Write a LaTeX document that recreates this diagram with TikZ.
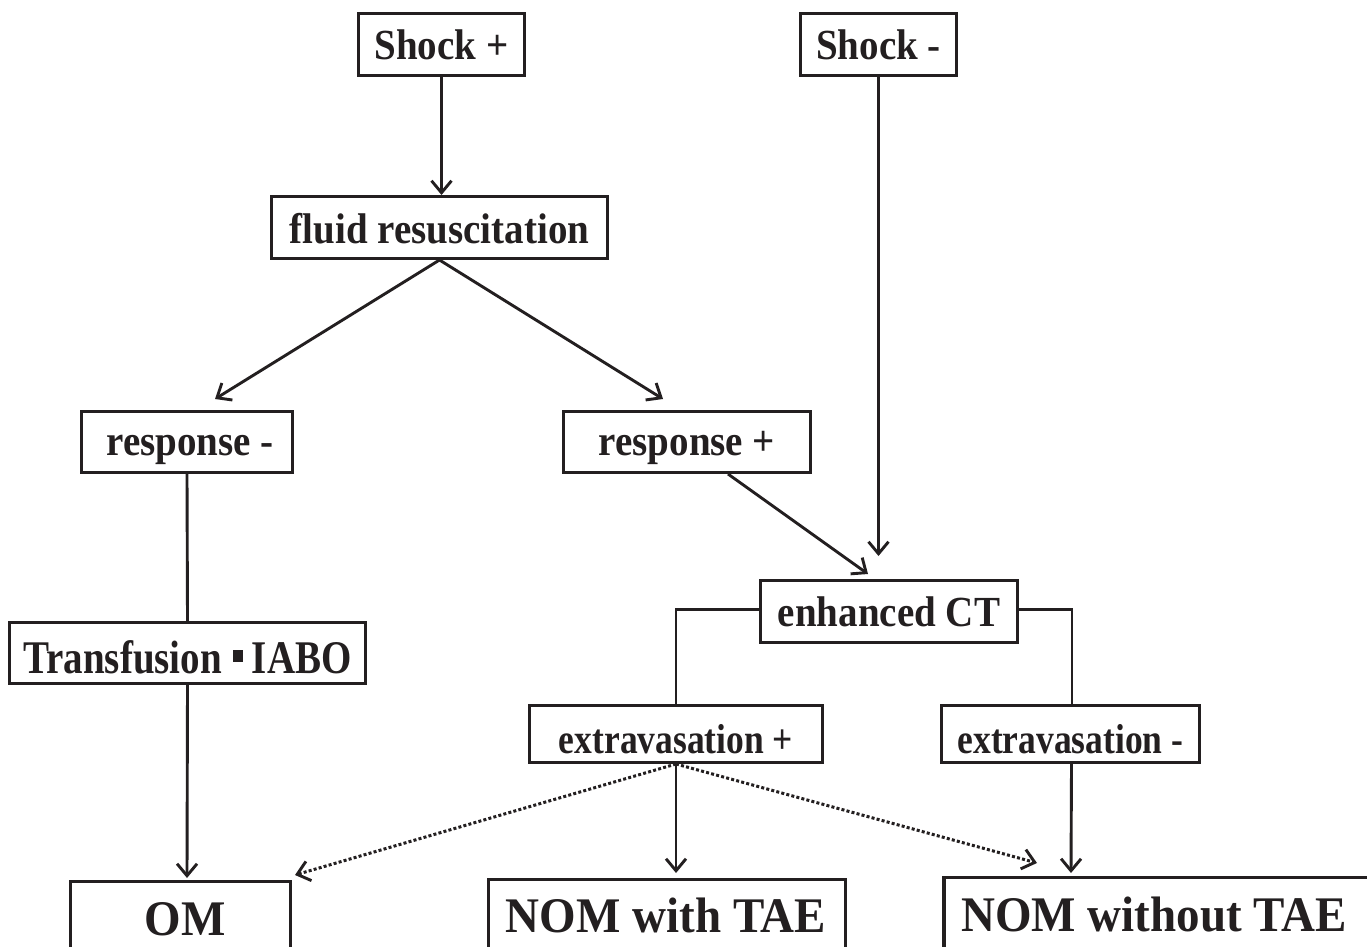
\documentclass[tikz,border=0pt]{standalone}
\usepackage{fontspec}
\setmainfont{Liberation Serif}
\usetikzlibrary{arrows.meta}
\definecolor{ink}{RGB}{35,31,32}
\newcommand{\vst}[2][1.1]{\scalebox{1}[#1]{#2}}
\begin{document}
\begin{tikzpicture}[x=1pt,y=-1pt,
  every node/.style={font=\bfseries, text=ink},
  box/.style={draw=ink, line width=3pt, inner sep=0pt, text depth=0pt,
    font=\fontsize{39}{42}\selectfont\bfseries},
  sbox/.style={box, font=\fontsize{35.5}{38}\selectfont\bfseries},
  bbox/.style={draw=ink, line width=3.4pt, inner sep=0pt, anchor=north},
  btext/.style={anchor=base, inner sep=0pt, font=\fontsize{47}{50}\selectfont\bfseries},
  conn/.style={draw=ink, line width=2.9pt},
  arr/.style={conn, -{Straight Barb[length=12pt,width=20pt,line width=2.9pt]}},
  dotarr/.style={arr, line width=3pt, dash pattern=on 3pt off 2.2pt}
]
\useasboundingbox (0,0) rectangle (1367,947);

% boxes
\node[box, minimum width=166, minimum height=62, text height=31pt] (s1) at (441.5,44.5) {\vst{Shock +}};
\node[box, minimum width=156, minimum height=62, text height=31pt] (s2) at (878.5,44.5) {\vst{Shock -}};
\node[box, minimum width=336, minimum height=62, text height=31pt] (fl) at (439.5,227.5) {\vst{fluid resuscitation}};
\node[box, minimum width=211, minimum height=61, text height=27pt] (rm) at (187,442) {\hspace{6pt}\vst{response -}};
\node[box, minimum width=247, minimum height=61, text height=27pt] (rp) at (687,442) {\vst{response +}};
\node[box, minimum width=257, minimum height=62, text height=29pt] (ct) at (889,611.5) {\vst{enhanced CT}};
\node[box, minimum width=356, minimum height=61, text height=40pt] (tr) at (187.5,653)
  {\vst[1.2]{Transfusion\hspace{11pt}\rule[9pt]{10pt}{10pt}\hspace{9pt}IABO}};
\node[sbox, minimum width=293, minimum height=57, text height=38pt] (ep) at (676,734) {\vst[1.18]{extravasation +}};
\node[sbox, minimum width=258, minimum height=57, text height=38pt] (em) at (1070.5,734) {\vst[1.18]{extravasation -}};

% bottom boxes (cut by page edge)
\node[bbox, minimum width=220, minimum height=130] (om) at (180.5,880) {};
\node[btext] (omt) at (185,935) {\vst[1.06]{OM}};
\node[bbox, minimum width=357, minimum height=130] (nw) at (667,878) {};
\node[btext] (nwt) at (666,932) {\vst[1.06]{NOM with TAE}};
\node[bbox, minimum width=446, minimum height=130] (nwo) at (1167,876) {};
\node[btext] (nwot) at (1154,931) {\vst[1.06]{NOM without TAE}};

% free ends of connectors
\coordinate (rmin) at (215,399);
\coordinate (rpin) at (663,399);
\coordinate (ctin1) at (868,574);
\coordinate (ctin2) at (878.5,556);
\coordinate (omin) at (187,878);
\coordinate (nwin) at (676,873);
\coordinate (nwoin) at (1071,873);
\coordinate (omdot) at (295,875);
\coordinate (nwodot) at (1037,863);

% connectors
\draw[arr] (s1.south) -- (s1.south |- fl.north);
\draw[arr] (fl.south) -- (rmin);
\draw[arr] (fl.south) -- (rpin);
\draw[arr] ([xshift=41pt]rp.south) -- (ctin1);
\draw[arr] (s2.south) -- (ctin2);
\draw[conn] (rm.south) -- (tr.north);
\draw[arr] (tr.south) -- (omin);
\draw[conn] ([yshift=2pt]ct.west) -| (ep.north);
\draw[conn] ([yshift=2pt]ct.east) -| ([xshift=1.5pt]em.north);
\draw[arr] (ep.south) -- (nwin);
\draw[dotarr] (ep.south) -- (omdot);
\draw[dotarr] (ep.south) -- (nwodot);
\draw[arr] ([xshift=1pt]em.south) -- (nwoin);
\end{tikzpicture}
\end{document}
